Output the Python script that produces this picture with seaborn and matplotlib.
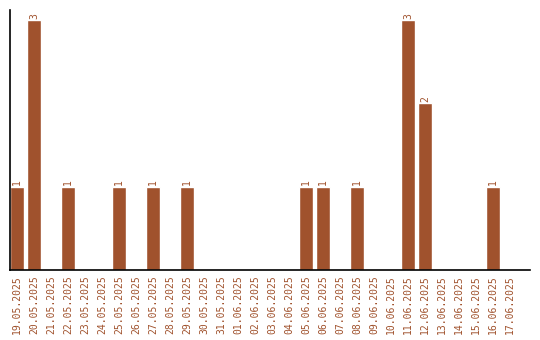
import matplotlib
matplotlib.use("Agg")
import matplotlib.pyplot as plt
import seaborn as sns
import pandas as pd

dates = ["19.05.2025", "20.05.2025", "21.05.2025", "22.05.2025", "23.05.2025",
         "24.05.2025", "25.05.2025", "26.05.2025", "27.05.2025", "28.05.2025",
         "29.05.2025", "30.05.2025", "31.05.2025", "01.06.2025", "02.06.2025",
         "03.06.2025", "04.06.2025", "05.06.2025", "06.06.2025", "07.06.2025",
         "08.06.2025", "09.06.2025", "10.06.2025", "11.06.2025", "12.06.2025",
         "13.06.2025", "14.06.2025", "15.06.2025", "16.06.2025", "17.06.2025"]
counts = [1, 3, 0, 1, 0, 0, 1, 0, 1, 0, 1, 0, 0, 0, 0,
          0, 0, 1, 1, 0, 1, 0, 0, 3, 2, 0, 0, 0, 1, 0]

color = "#A0522D"
df = pd.DataFrame({"date": dates, "count": counts})

sns.set_style("white")
plt.rcParams['font.family'] = ['DejaVu Sans Mono', 'DejaVu Sans']

fig = plt.figure(figsize=(5.4, 3.4), dpi=100)
ax = fig.add_axes([10/540, 70/340, 520/540, 260/340])
sns.barplot(data=df, x="date", y="count", color=color, saturation=1,
            width=0.82, ax=ax)

labels = [str(c) if c > 0 else "" for c in counts]
ax.bar_label(ax.containers[0], labels=labels, rotation=90, color=color,
             fontsize=7, padding=1)

ax.set_xlim(-0.41, 30.18)
ax.set_ylim(0, 3.12)
ax.set_xlabel("")
ax.set_ylabel("")
ax.set_yticks([])
ax.tick_params(axis="x", length=0, pad=4, labelsize=7, labelcolor=color,
               rotation=90)
for s in ["top", "right"]:
    ax.spines[s].set_visible(False)
for s in ["left", "bottom"]:
    ax.spines[s].set_color("black")
    ax.spines[s].set_linewidth(1.2)

fig.savefig("out.png", dpi=100)
